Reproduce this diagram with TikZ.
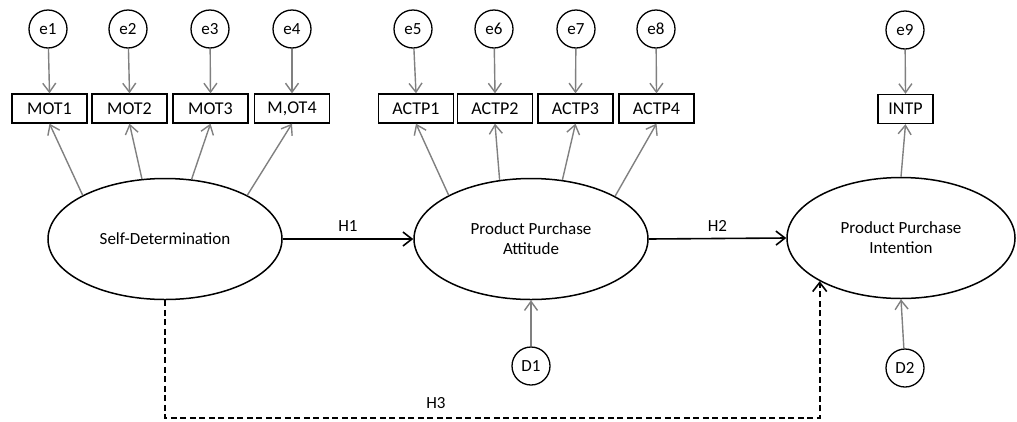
\documentclass[tikz,border=0pt]{standalone}
\usepackage{fontspec}
\setmainfont{Carlito}
\usetikzlibrary{shapes.geometric,arrows.meta}
\begin{document}
\begin{tikzpicture}[x=1pt,y=-1pt,
  font=\fontsize{17}{20}\selectfont,
  err/.style={circle,draw,line width=1.3pt,minimum size=38pt,inner sep=0pt},
  ind/.style={rectangle,draw,line width=1.3pt,minimum width=75pt,minimum height=29pt,inner sep=0pt,font=\fontsize{18}{20}\selectfont},
  lat/.style={ellipse,draw,line width=1.5pt,minimum width=234pt,minimum height=121pt,inner sep=0pt,align=center},
  load/.style={draw=gray,line width=1.4pt,-{Straight Barb[length=9pt,width=13pt]}},
  path/.style={draw=black,line width=1.6pt,-{Straight Barb[length=9pt,width=14pt]}},
  hyp/.style={dash pattern=on 6pt off 3.5pt}
]
\useasboundingbox (0,0) rectangle (1017,421);

% latent constructs
\node[lat] (sd)  at (165,239) {Self-Determination};
\node[lat] (ppa) at (531,239) {Product Purchase\\Attitude};
\node[lat,minimum width=228pt] (ppi) at (901,238) {Product Purchase\\Intention};

% indicators
\node[ind] (mot1) at (49.5,108.5) {MOT1};
\node[ind] (mot2) at (129.5,108.5) {MOT2};
\node[ind] (mot3) at (210.5,108.5) {MOT3};
\node[ind] (mot4) at (292,108.5) {M,OT4};
\node[ind] (act1) at (416,108.5) {ACTP1};
\node[ind] (act2) at (495,108.5) {ACTP2};
\node[ind] (act3) at (575.5,108.5) {ACTP3};
\node[ind] (act4) at (656.5,108.5) {ACTP4};
\node[ind,minimum width=55pt] (intp) at (905.5,109) {INTP};

% measurement errors
\node[err] (e1) at (48,29) {e1};
\node[err] (e2) at (128,29) {e2};
\node[err] (e3) at (210,29) {e3};
\node[err] (e4) at (292,29) {e4};
\node[err] (e5) at (413,29) {e5};
\node[err] (e6) at (494,29) {e6};
\node[err] (e7) at (576,29) {e7};
\node[err] (e8) at (656,29) {e8};
\node[err] (e9) at (905,30) {e9};

% disturbances
\node[err] (d1) at (531,366) {D1};
\node[err] (d2) at (905,368) {D2};

% error arrows
\foreach \e/\i in {e1/mot1,e2/mot2,e3/mot3,e4/mot4,e5/act1,e6/act2,e7/act3,e8/act4,e9/intp}
  \draw[load] (\e) -- (\i.north);

% loadings
\draw[load] (sd.152) -- (mot1.south);
\draw[load] (sd.111) -- (mot2.south);
\draw[load] (sd.66)  -- (mot3.south);
\draw[load] (sd.28)  -- (mot4.south);
\draw[load] (ppa.152.4) -- (act1.south);
\draw[load] (ppa.118.4) -- (act2.south);
\draw[load] (ppa.62.3)  -- (act3.south);
\draw[load] (ppa.27.6)  -- (act4.south);
\draw[load] (ppi.north) -- (intp.south);

% disturbance arrows
\draw[load] (d1) -- (ppa.south);
\draw[load] (d2) -- (ppi.south);

% structural paths
\draw[path] (sd.east) -- node[above=3pt] {H1} (ppa.west);
\draw[path] (ppa.east) -- node[above=3pt] {H2} (ppi.west);
\coordinate (h3y) at (0,418);
\draw[path,hyp] (sd.south) -- (sd.south |- h3y) -| (ppi.208.7);
\node (h3) at (436,403) {H3};
\end{tikzpicture}
\end{document}
